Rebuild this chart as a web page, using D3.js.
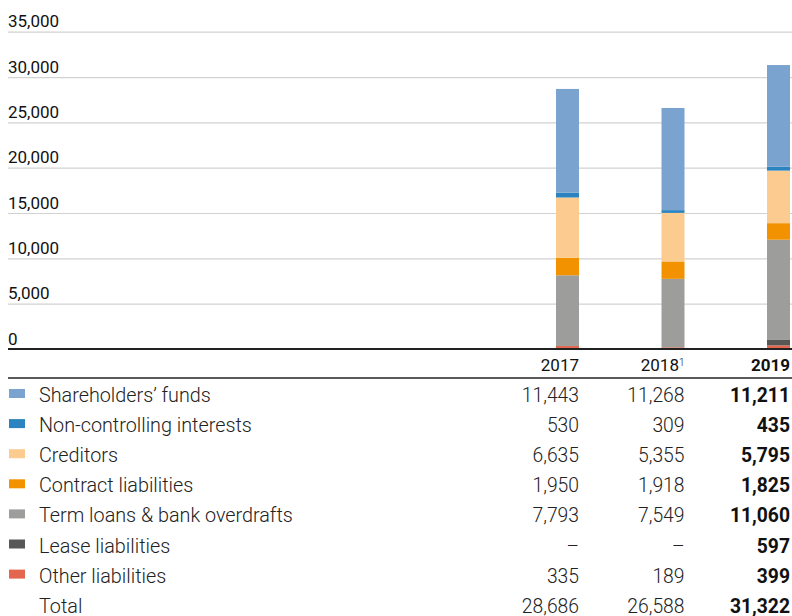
<!DOCTYPE html>
<html><head><meta charset="utf-8">
<script src="https://cdn.jsdelivr.net/npm/d3@7"></script>
<style>
body{margin:0;background:#fff;}
svg{display:block;font-family:Roboto,"Noto Sans",sans-serif;}
</style></head>
<body><svg id="c" width="792" height="616"></svg>
<script>
const years = ["2017", "2018", "2019"];
const yearNotes = ["", "1", ""];
const seriesNames = ["Shareholders’ funds","Non-controlling interests","Creditors","Contract liabilities","Term loans & bank overdrafts","Lease liabilities","Other liabilities"];
const seriesColors = ["#7ba3cf","#2b84bf","#fbcb8f","#f39200","#9d9d9c","#575756","#e3674e"];
const shareholders = [11443, 11268, 11211];
const nonControlling = [530, 309, 435];
const creditors = [6635, 5355, 5795];
const contractLiab = [1950, 1918, 1825];
const termLoans = [7793, 7549, 11060];
const leaseLiab = [null, null, 597];
const otherLiab = [335, 189, 399];
const totals = [28686, 26588, 31322];
const yTicks = [0, 5000, 10000, 15000, 20000, 25000, 30000, 35000];

const seriesValues = [shareholders, nonControlling, creditors, contractLiab, termLoans, leaseLiab, otherLiab];
const svg = d3.select("#c");
const left = 8, right = 792;
const y = d3.scaleLinear().domain([0, 35000]).range([349, 31.7]);
const x = d3.scalePoint().domain(years).range([579, 790]);
const barW = 23;
const fmt = d3.format(",");

// gridlines
const yAxis = d3.axisLeft(y).tickValues(yTicks).tickSize(-(right-left)).tickFormat(fmt);
const gA = svg.append("g").attr("transform",`translate(${left},0)`).call(yAxis);
gA.select(".domain").remove();
gA.selectAll(".tick line").attr("stroke","#d2d2d2").attr("stroke-width",1.2);
gA.selectAll(".tick text").attr("x",0).attr("dy",null).attr("y",-5)
  .attr("text-anchor","start").attr("font-size",17).attr("fill","#111")
  .style("font-family","Roboto");

// stacked bars
const rows = years.map((yr,i)=>{const o={year:yr}; seriesNames.forEach((s,j)=>o[s]=seriesValues[j][i]||0); return o;});
const keys = seriesNames.slice().reverse();
const stack = d3.stack().keys(keys)(rows);
const color = d3.scaleOrdinal().domain(seriesNames).range(seriesColors);
svg.append("g").selectAll("g").data(stack).join("g").attr("fill",d=>color(d.key))
  .selectAll("rect").data(d=>d).join("rect")
  .attr("x",d=>x(d.data.year)-barW).attr("width",barW)
  .attr("y",d=>y(d[1])).attr("height",d=>y(d[0])-y(d[1]));

// axis lines
svg.append("line").attr("x1",left).attr("x2",right).attr("y1",y(0)).attr("y2",y(0)).attr("stroke","#222").attr("stroke-width",1.8);
svg.append("line").attr("x1",left).attr("x2",right).attr("y1",378).attr("y2",378).attr("stroke","#222").attr("stroke-width",1.3);

// header
const hdr = svg.append("g").selectAll("text").data(years).join("text")
  .attr("x",d=>x(d)).attr("y",371).attr("text-anchor","end").attr("font-size",17)
  .attr("fill","#111").attr("font-weight",(d,i)=>i===2?700:400);
hdr.append("tspan").text(d=>d);
hdr.append("tspan").text((d,i)=>yearNotes[i]).attr("font-size",10).attr("font-weight",300).attr("dy",(d,i)=>yearNotes[i]?-5:0);

// table rows
const rowY0 = 402, rowStep = 30.1;
const tableRows = seriesNames.map((n,j)=>({name:n,color:seriesColors[j],vals:seriesValues[j]}));
tableRows.push({name:"Total",color:null,vals:totals});
const tr = svg.append("g").selectAll("g").data(tableRows).join("g")
  .attr("transform",(d,i)=>`translate(0,${rowY0+i*rowStep})`);
tr.filter(d=>d.color).append("rect").attr("x",9).attr("y",-13).attr("width",16).attr("height",9).attr("fill",d=>d.color);
tr.append("text").attr("x",39).attr("y",0).attr("font-size",19.8).attr("font-weight",300).attr("fill","#222").text(d=>d.name);
tr.selectAll("text.v").data(d=>d.vals).join("text").attr("class","v")
  .attr("x",(d,i)=>x(years[i])).attr("y",0).attr("text-anchor","end").attr("font-size",19.3)
  .attr("font-weight",(d,i)=>i===2?700:300).attr("fill",(d,i)=>i===2?"#111":"#222")
  .text(d=>d==null?"–":fmt(d));
</script></body></html>
